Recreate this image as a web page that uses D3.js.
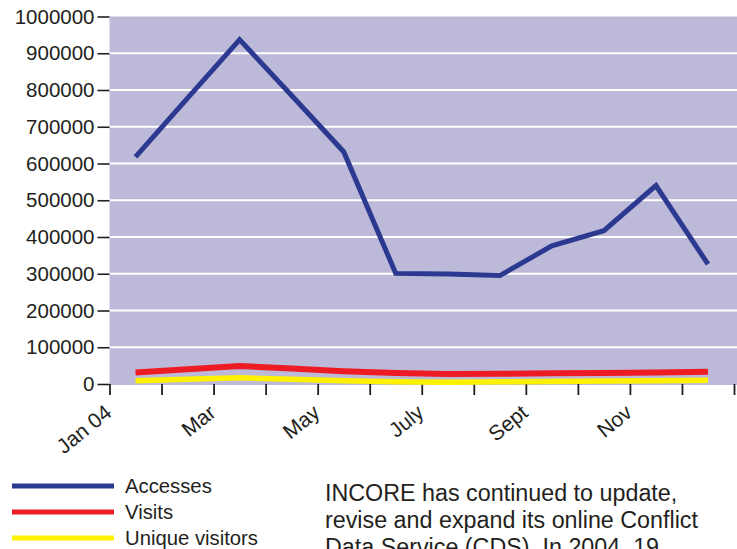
<!DOCTYPE html>
<html><head><meta charset="utf-8">
<script src="https://cdn.jsdelivr.net/npm/d3@7"></script>
<style>
html,body{margin:0;padding:0;background:#fff;}
svg{display:block;}
text{font-family:"Liberation Sans",Arial,Helvetica,sans-serif;fill:#231f20;}
</style></head>
<body>
<svg id="chart" width="737" height="549"></svg>
<script>
const months = ["Jan","Feb","Mar","Apr","May","Jun","Jul","Aug","Sep","Oct","Nov","Dec"];
const tickLabels = ["Jan 04","","Mar","","May","","July","","Sept","","Nov","",""];
const accesses = [618000, 778000, 937000, 785000, 632000, 301000, 299000, 295000, 376000, 417000, 540000, 326000];
const visits = [31000, 40000, 49000, 42000, 35000, 30000, 27000, 28000, 29000, 30000, 31000, 33000];
const uniqueVisitors = [9000, 13000, 17000, 13000, 9000, 6000, 5000, 6000, 7000, 8000, 9000, 10000];
const yTicks = [0,100000,200000,300000,400000,500000,600000,700000,800000,900000,1000000];
const seriesNames = ["Accesses","Visits","Unique visitors"];
const seriesColors = ["#2b3990","#ed1c24","#fff200"];
const paragraph = ["INCORE has continued to update,","revise and expand its online Conflict","Data Service (CDS). In 2004, 19"];

(function(){
const svg = d3.select("#chart");
const pLeft = 109.5, pRight = 734, pTop = 16.5, pBottom = 384;
const tickIdx = d3.range(13);
const xt = d3.scaleLinear().domain([0,12]).range([pLeft,pRight]);
const x = i => xt(i + 0.5);
const y = d3.scaleLinear().domain([0,1000000]).range([pBottom, pTop]);

svg.append("rect").attr("x", pLeft).attr("y", pTop).attr("width", 737 - pLeft).attr("height", pBottom - pTop + 1)
  .attr("fill", "#bcbad8");

svg.append("g").selectAll("line").data(yTicks.filter(d => d > 0 && d < 1000000)).join("line")
  .attr("x1", pLeft).attr("x2", 737).attr("y1", d => y(d)).attr("y2", d => y(d))
  .attr("stroke", "#fff").attr("stroke-width", 2);

const yAxis = d3.axisLeft(y).tickValues(yTicks).tickFormat(d3.format("d")).tickSize(12).tickPadding(3);
const gy = svg.append("g").attr("transform", `translate(${pLeft},0)`).call(yAxis);
gy.select(".domain").remove();
gy.selectAll(".tick line").attr("stroke", "#231f20").attr("stroke-width", 1.6);
gy.selectAll(".tick text").attr("font-size", 20.5).attr("fill", "#231f20")
  .attr("font-family", "'Liberation Sans', Arial, sans-serif");

const xAxis = d3.axisBottom(xt).tickValues(tickIdx).tickSize(11).tickFormat(i => tickLabels[i]);
const gx = svg.append("g").attr("transform", `translate(0,${pBottom})`).call(xAxis);
gx.select(".domain").remove();
gx.selectAll(".tick line").attr("stroke", "#231f20").attr("stroke-width", 1.8);
gx.selectAll(".tick text")
  .attr("font-size", 21).attr("fill", "#231f20")
  .attr("font-family", "'Liberation Sans', Arial, sans-serif")
  .attr("text-anchor", "end")
  .attr("y", 0).attr("dy", 0)
  .attr("transform", "translate(3,31) rotate(-39)");

const series = [accesses, visits, uniqueVisitors];
const widths = [5, 6, 5.5];
const line = d3.line().x((d,i) => x(i)).y(d => y(d));
[2,1,0].forEach(k => {
  svg.append("path").datum(series[k]).attr("d", line)
    .attr("fill", "none").attr("stroke", seriesColors[k]).attr("stroke-width", widths[k])
    .attr("stroke-linejoin", "miter");
});

const lg = svg.append("g");
seriesNames.forEach((n, i) => {
  const ly = 486 + i * 26;
  lg.append("line").attr("x1", 12).attr("x2", 114).attr("y1", ly).attr("y2", ly)
    .attr("stroke", seriesColors[i]).attr("stroke-width", 5);
  lg.append("text").attr("x", 125).attr("y", ly + 7).attr("font-size", 20.3).text(n);
});

paragraph.forEach((t, i) => {
  svg.append("text").attr("x", 325).attr("y", 501 + i * 27).attr("font-size", 23.3).text(t);
});
})();
</script>
</body></html>
